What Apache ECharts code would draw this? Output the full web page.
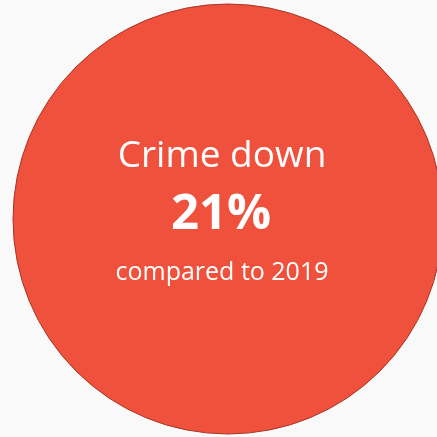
<!DOCTYPE html>
<html>
<head>
<meta charset="utf-8">
<script src="https://cdn.jsdelivr.net/npm/echarts@6/dist/echarts.min.js"></script>
<style>
  html, body { margin: 0; padding: 0; background: #f9f9f9; }
  #main { width: 437px; height: 437px; }
</style>
</head>
<body>
<div id="main"></div>
<script>
// figures shown on the card
var sliceNames = ['Crime'];
var sliceValues = [100];
var headline = 'Crime down';
var changePct = [21];
var caption = 'compared to 2019';

var chart = echarts.init(document.getElementById('main'));

var font = '"Open Sans", Lato, sans-serif';

var option = {
    backgroundColor: '#f9f9f9',
    animation: false,
    series: [{
        type: 'pie',
        center: [228, 219],
        radius: [0, 215],
        silent: true,
        label: { show: false },
        labelLine: { show: false },
        itemStyle: {
            color: '#f0513d',
            borderColor: '#a83526',
            borderWidth: 1
        },
        data: sliceNames.map(function(n, i) {
            return { name: n, value: sliceValues[i] };
        })
    }],
    graphic: {
        elements: [
            {
                type: 'text', x: 222, y: 156, z: 100,
                style: { text: headline, fill: '#fff', font: '37px ' + font, align: 'center', verticalAlign: 'middle' }
            },
            {
                type: 'text', x: 221, y: 215, z: 100,
                style: { text: changePct[0] + '%', fill: '#fff', font: 'bold 49px ' + font, align: 'center', verticalAlign: 'middle' }
            },
            {
                type: 'text', x: 222, y: 273, z: 100,
                style: { text: caption, fill: '#fff', font: '25px ' + font, align: 'center', verticalAlign: 'middle' }
            }
        ]
    }
};

chart.setOption(option);
</script>
</body>
</html>
